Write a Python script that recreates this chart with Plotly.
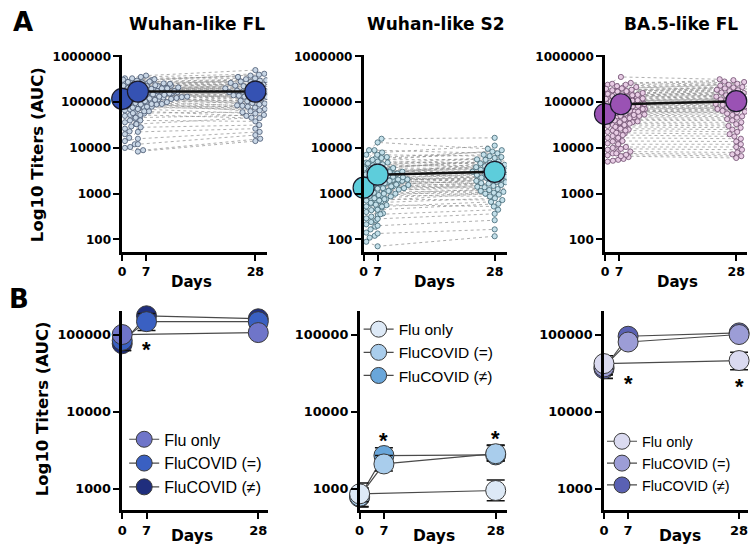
import numpy as np
import plotly.graph_objects as go

W, H = 750, 546
FONT = "Liberation Sans"
BFONT = "DejaVu Sans"

# ---------------- DATA ----------------
days = [0, 7, 28]
panel_titles = ["Wuhan-like FL", "Wuhan-like S2", "BA.5-like FL"]
tick_labels_y_top = ["100", "1000", "10000", "100000", "1000000"]
tick_values_y_top = [100, 1000, 10000, 100000, 1000000]
tick_labels_y_bot = ["1000", "10000", "100000"]
tick_values_y_bot = [1000, 10000, 100000]
day_labels = ["0", "7", "28"]

# Panel A: individual log10 titers (AUC) per subject
fl_d0 = [5.52, 5.48, 5.45, 5.44, 5.41, 5.40, 5.38, 5.36, 5.35, 5.34,
         5.32, 5.31, 5.30, 5.28, 5.27, 5.26, 5.25, 5.24, 5.22, 5.21,
         5.20, 5.19, 5.18, 5.17, 5.16, 5.15, 5.14, 5.13, 5.12, 5.11,
         5.10, 5.09, 5.08, 5.07, 5.06, 5.05, 5.04, 5.03, 5.02, 5.00,
         4.99, 4.97, 4.96, 4.95, 4.93, 4.92, 4.90, 4.88, 4.86, 4.84,
         4.82, 4.80, 4.78, 4.75, 4.72, 4.70, 4.67, 4.64, 4.60, 4.56,
         4.52, 4.47, 4.42, 4.36, 4.30, 4.22, 4.15, 4.08, 4.02, 4.00]
fl_d7 = [5.58, 5.55, 5.50, 5.52, 5.47, 5.49, 5.45, 5.44, 5.40, 5.43,
         5.41, 5.38, 5.40, 5.36, 5.37, 5.33, 5.35, 5.32, 5.34, 5.30,
         5.31, 5.28, 5.30, 5.27, 5.29, 5.25, 5.26, 5.24, 5.27, 5.22,
         5.23, 5.20, 5.24, 5.19, 5.21, 5.17, 5.18, 5.16, 5.20, 5.13,
         5.15, 5.12, 5.10, 5.14, 5.08, 5.11, 5.05, 5.07, 5.02, 5.04,
         4.98, 5.00, 4.95, 4.92, 4.96, 4.88, 4.85, 4.90, 4.80, 4.76,
         4.72, 4.66, 4.60, 4.52, 4.45, 4.35, 4.20, 4.08, 3.95, 3.92]
fl_d28 = [5.70, 5.62, 5.58, 5.55, 5.60, 5.52, 5.50, 5.48, 5.53, 5.45,
          5.47, 5.42, 5.44, 5.40, 5.38, 5.41, 5.36, 5.39, 5.33, 5.35,
          5.30, 5.34, 5.28, 5.31, 5.25, 5.29, 5.22, 5.27, 5.20, 5.24,
          5.18, 5.23, 5.15, 5.21, 5.12, 5.19, 5.10, 5.16, 5.08, 5.14,
          5.05, 5.11, 5.02, 5.06, 4.98, 5.03, 4.95, 5.00, 4.92, 4.97,
          4.88, 4.93, 4.85, 4.90, 4.80, 4.86, 4.75, 4.82, 4.70, 4.78,
          4.65, 4.72, 4.58, 4.66, 4.50, 4.42, 4.35, 4.28, 4.20, 4.15]

s2_d0 = [3.95, 3.85, 3.78, 3.72, 3.68, 3.64, 3.60, 3.57, 3.55, 3.52,
         3.50, 3.48, 3.46, 3.44, 3.42, 3.40, 3.38, 3.36, 3.35, 3.33,
         3.31, 3.30, 3.28, 3.27, 3.25, 3.24, 3.22, 3.21, 3.19, 3.18,
         3.16, 3.15, 3.13, 3.12, 3.10, 3.09, 3.07, 3.06, 3.04, 3.02,
         3.00, 2.98, 2.96, 2.94, 2.92, 2.90, 2.88, 2.85, 2.83, 2.80,
         2.78, 2.75, 2.72, 2.70, 2.67, 2.64, 2.60, 2.57, 2.53, 2.50,
         2.46, 2.42, 2.38, 2.33, 2.28, 2.22, 2.15, 2.08, 2.04, 1.95]
s2_d7 = [4.20, 3.90, 4.12, 3.80, 3.95, 3.70, 3.85, 3.62, 3.78, 3.74,
         3.58, 3.68, 3.66, 3.52, 3.70, 3.55, 3.60, 3.48, 3.64, 3.45,
         3.56, 3.42, 3.50, 3.47, 3.38, 3.53, 3.40, 3.44, 3.36, 3.49,
         3.33, 3.41, 3.30, 3.37, 3.46, 3.28, 3.34, 3.25, 3.31, 3.22,
         3.35, 3.20, 3.27, 3.18, 3.29, 3.15, 3.23, 3.12, 3.19, 3.08,
         3.16, 3.05, 3.11, 3.00, 3.06, 2.95, 3.02, 2.90, 2.97, 2.85,
         2.80, 2.88, 2.72, 2.65, 2.76, 2.55, 2.45, 2.30, 2.13, 1.85]
s2_d28 = [4.22, 4.05, 3.98, 3.92, 3.88, 3.95, 3.82, 3.78, 3.85, 3.75,
          3.72, 3.80, 3.68, 3.74, 3.65, 3.70, 3.62, 3.66, 3.58, 3.63,
          3.55, 3.60, 3.52, 3.57, 3.50, 3.54, 3.47, 3.51, 3.44, 3.48,
          3.41, 3.45, 3.38, 3.43, 3.35, 3.40, 3.32, 3.37, 3.29, 3.34,
          3.26, 3.31, 3.23, 3.28, 3.20, 3.25, 3.17, 3.22, 3.14, 3.19,
          3.10, 3.15, 3.06, 3.12, 3.02, 3.08, 2.98, 3.04, 2.94, 3.00,
          2.90, 2.86, 2.82, 2.78, 2.72, 2.65, 2.56, 2.42, 2.22, 2.07]

ba5_d0 = [5.38, 5.32, 5.28, 5.25, 5.22, 5.19, 5.16, 5.14, 5.12, 5.10,
          5.08, 5.06, 5.04, 5.02, 5.00, 4.99, 4.97, 4.96, 4.94, 4.93,
          4.91, 4.90, 4.88, 4.87, 4.85, 4.84, 4.82, 4.81, 4.79, 4.78,
          4.76, 4.75, 4.73, 4.72, 4.70, 4.69, 4.67, 4.66, 4.64, 4.62,
          4.60, 4.58, 4.56, 4.54, 4.52, 4.50, 4.48, 4.45, 4.43, 4.40,
          4.38, 4.35, 4.32, 4.29, 4.26, 4.22, 4.18, 4.14, 4.10, 4.05,
          4.00, 3.96, 3.92, 3.88, 3.84, 3.80, 3.76, 3.74, 3.72, 3.70]
ba5_d7 = [5.55, 5.42, 5.40, 5.35, 5.38, 5.30, 5.33, 5.27, 5.29, 5.24,
          5.26, 5.21, 5.23, 5.18, 5.20, 5.16, 5.17, 5.13, 5.15, 5.11,
          5.12, 5.08, 5.10, 5.05, 5.07, 5.03, 5.04, 5.00, 5.02, 4.98,
          4.99, 4.95, 4.96, 4.92, 4.94, 4.90, 4.91, 4.87, 4.88, 4.84,
          4.85, 4.81, 4.82, 4.78, 4.79, 4.75, 4.76, 4.72, 4.70, 4.67,
          4.65, 4.62, 4.60, 4.56, 4.53, 4.50, 4.46, 4.42, 4.38, 4.33,
          4.28, 4.22, 4.15, 4.08, 4.02, 3.98, 3.92, 3.88, 3.85, 3.82]
ba5_d28 = [5.50, 5.48, 5.45, 5.42, 5.44, 5.38, 5.40, 5.35, 5.36, 5.32,
           5.33, 5.29, 5.30, 5.26, 5.27, 5.23, 5.24, 5.20, 5.21, 5.17,
           5.18, 5.14, 5.15, 5.11, 5.12, 5.08, 5.09, 5.05, 5.06, 5.02,
           5.03, 4.99, 5.00, 4.96, 4.97, 4.93, 4.94, 4.90, 4.91, 4.87,
           4.88, 4.84, 4.85, 4.81, 4.82, 4.78, 4.79, 4.75, 4.72, 4.69,
           4.66, 4.63, 4.60, 4.56, 4.52, 4.48, 4.44, 4.40, 4.35, 4.30,
           4.25, 4.20, 4.14, 4.08, 4.02, 3.96, 3.90, 3.86, 3.82, 3.78]

# Panel A: geometric mean titers (AUC) at days 0, 7, 28
fl_means = [118000, 170000, 170000]
s2_means = [1350, 2600, 3000]
ba5_means = [55000, 90000, 105000]

# Panel B: group mean titers with error bars
group_names = ["Flu only", "FluCOVID (=)", "FluCOVID (≠)"]
flu_only_days = [0, 28]
flucovid_days = [0, 7, 28]

b_fl_flu = [100000, 106000]
b_fl_flu_up = [12000, 10000]
b_fl_flu_dn = [12000, 10000]
b_fl_eq = [84000, 147000, 147000]
b_fl_eq_up = [18000, 40000, 22000]
b_fl_eq_dn = [22000, 34000, 20000]
b_fl_ne = [76000, 175000, 160000]
b_fl_ne_up = [15000, 15000, 22000]
b_fl_ne_dn = [14000, 25000, 20000]

b_s2_flu = [860, 950]
b_s2_flu_up = [330, 350]
b_s2_flu_dn = [180, 250]
b_s2_eq = [800, 2100, 2850]
b_s2_eq_up = [200, 600, 850]
b_s2_eq_dn = [210, 400, 550]
b_s2_ne = [780, 2700, 2750]
b_s2_ne_up = [250, 700, 900]
b_s2_ne_dn = [200, 500, 450]

b_ba5_flu = [42000, 46000]
b_ba5_flu_up = [11000, 13000]
b_ba5_flu_dn = [6000, 11000]
b_ba5_eq = [38000, 80000, 100000]
b_ba5_eq_up = [9000, 10000, 10000]
b_ba5_eq_dn = [8000, 10000, 10000]
b_ba5_ne = [36000, 95000, 105000]
b_ba5_ne_up = [9000, 10000, 10000]
b_ba5_ne_dn = [9000, 10000, 10000]

# ---------------- STYLE / LAYOUT ----------------
def xdom(a, b):
    return [a / W, b / W]

def ydom(top, bottom):
    return [1 - bottom / H, 1 - top / H]

top_xdom = [(118, 264), (361, 505), (604, 747)]
top_xrange = [[0, 30.5], [0, 30.55], [0, 30.3]]
top_tick7 = [5, 3, 3]
top_dot7 = [3.3, 3.0, 3.4]
top_ydom = (50, 249)
top_yrange = [1.72, 6.02]

bot_xdom = [(118, 265), (357, 505), (603, 748)]
bot_xrange = [[0, 30.05], [0, 30.25], [0, 29.85]]
bot_tick7 = 5
bot_ydom = (308, 510)
bot_yrange = [2.72, 5.31]

small_fill = ["#c9d7e6", "#c4e0ea", "#e8cde5"]
small_line = ["#46566e", "#3f6472", "#6c4a6c"]
big_fill = ["#3552b3", "#5dcddb", "#9a52b4"]

b_colors = [["#6f75c9", "#3a60c2", "#1f2e7d"],
            ["#dde9f6", "#a9cdec", "#69a6da"],
            ["#dadaf0", "#9c9dd6", "#5a61b3"]]

fig = go.Figure()


def beeswarm(ypx, d, one_sided=False):
    ypx = np.asarray(ypx, dtype=float)
    xs = np.zeros(len(ypx))
    placed = []
    start = d * 0.5 if one_sided else 0.0
    for i in np.argsort(ypx):
        y = ypx[i]
        cands = [start]
        for (px, py) in placed:
            dy = abs(y - py)
            if dy < d:
                dx = np.sqrt(d * d - dy * dy)
                cands += [px + dx, px - dx]
        if one_sided:
            cands = [c for c in cands if c >= start - 1e-9]
        cands.sort(key=abs)
        for c in cands:
            if all((c - px) ** 2 + (y - py) ** 2 >= d * d - 1e-6 for px, py in placed):
                xs[i] = c
                placed.append((c, y))
                break
    return xs


panel_data = [(fl_d0, fl_d7, fl_d28, fl_means),
              (s2_d0, s2_d7, s2_d28, s2_means),
              (ba5_d0, ba5_d7, ba5_d28, ba5_means)]

px_per_dec_top = 199 / (top_yrange[1] - top_yrange[0])
DOT = 5.4

for p, (d0, d7, d28, means) in enumerate(panel_data):
    xa = "x" if p == 0 else f"x{p + 1}"
    ya = "y" if p == 0 else f"y{p + 1}"
    px_per_unit = (top_xdom[p][1] - top_xdom[p][0]) / (top_xrange[p][1] - top_xrange[p][0])
    centers = [0, top_dot7[p], 28]
    series = [d0, d7, d28]
    xs_all = []
    for k, vals in enumerate(series):
        off = beeswarm(np.array(vals) * px_per_dec_top, DOT, one_sided=(k == 0)) / px_per_unit
        xs_all.append(centers[k] + off)
    lx, ly = [], []
    for i in range(len(d0)):
        for k in range(3):
            lx.append(xs_all[k][i])
            ly.append(10 ** series[k][i])
        lx.append(None)
        ly.append(None)
    fig.add_trace(go.Scatter(x=lx, y=ly, mode="lines", xaxis=xa, yaxis=ya,
                             line=dict(color="#8c8c8c", width=0.7, dash="dot"),
                             showlegend=False, hoverinfo="skip"))
    for k in range(3):
        fig.add_trace(go.Scatter(x=xs_all[k], y=[10 ** v for v in series[k]],
                                 mode="markers", xaxis=xa, yaxis=ya,
                                 marker=dict(size=5.2, color=small_fill[p],
                                             line=dict(color=small_line[p], width=0.8)),
                                 showlegend=False))
    fig.add_trace(go.Scatter(x=centers, y=means, mode="lines+markers", xaxis=xa, yaxis=ya,
                             line=dict(color="#111111", width=2.5),
                             marker=dict(size=21, color=big_fill[p],
                                         line=dict(color="#1a1a2a", width=1.2)),
                             cliponaxis=False, showlegend=False))

b_sets = [
    [(flu_only_days, b_fl_flu, b_fl_flu_up, b_fl_flu_dn),
     (flucovid_days, b_fl_eq, b_fl_eq_up, b_fl_eq_dn),
     (flucovid_days, b_fl_ne, b_fl_ne_up, b_fl_ne_dn)],
    [(flu_only_days, b_s2_flu, b_s2_flu_up, b_s2_flu_dn),
     (flucovid_days, b_s2_eq, b_s2_eq_up, b_s2_eq_dn),
     (flucovid_days, b_s2_ne, b_s2_ne_up, b_s2_ne_dn)],
    [(flu_only_days, b_ba5_flu, b_ba5_flu_up, b_ba5_flu_dn),
     (flucovid_days, b_ba5_eq, b_ba5_eq_up, b_ba5_eq_dn),
     (flucovid_days, b_ba5_ne, b_ba5_ne_up, b_ba5_ne_dn)],
]
legend_ids = ["legend", "legend2", "legend3"]

for p in range(3):
    xa = f"x{p + 4}"
    ya = f"y{p + 4}"
    for g in [2, 1, 0]:
        dd, m, up, dn = b_sets[p][g]
        xpos = [bot_tick7 if d == 7 else d for d in dd]
        fig.add_trace(go.Scatter(
            x=xpos, y=m, mode="lines+markers", xaxis=xa, yaxis=ya,
            name=group_names[g], legend=legend_ids[p],
            line=dict(color="#4a4a4a", width=1.2),
            marker=dict(size=20, color=b_colors[p][g], line=dict(color="#3a3a3a", width=1)),
            error_y=dict(type="data", array=up, arrayminus=dn, color="#111111",
                         thickness=1.6, width=9),
            cliponaxis=False))

axis_common = dict(showline=True, linecolor="black", linewidth=2.5, ticks="outside",
                   ticklen=6, tickwidth=2, tickcolor="black", showgrid=False,
                   zeroline=False, mirror=False)

layout = dict(width=W, height=H, margin=dict(l=0, r=0, t=0, b=0),
              paper_bgcolor="white", plot_bgcolor="white",
              font=dict(family=FONT, color="black"))

for p in range(3):
    sfx = "" if p == 0 else str(p + 1)
    layout["xaxis" + sfx] = dict(axis_common, domain=xdom(*top_xdom[p]), range=top_xrange[p],
                                 anchor="y" + sfx, tickvals=[0, top_tick7[p], 28],
                                 ticktext=day_labels,
                                 tickfont=dict(family=BFONT, size=12.5, weight=700))
    layout["yaxis" + sfx] = dict(axis_common, domain=ydom(*top_ydom), range=top_yrange,
                                 type="log", anchor="x" + sfx,
                                 tickvals=tick_values_y_top, ticktext=tick_labels_y_top,
                                 tickfont=dict(family=BFONT, size=12, weight=700))
    s2 = str(p + 4)
    layout["xaxis" + s2] = dict(axis_common, domain=xdom(*bot_xdom[p]), range=bot_xrange[p],
                                anchor="y" + s2, tickvals=[0, bot_tick7, 28],
                                ticktext=day_labels,
                                tickfont=dict(family=BFONT, size=13, weight=700))
    layout["yaxis" + s2] = dict(axis_common, domain=ydom(*bot_ydom), range=bot_yrange,
                                type="log", anchor="x" + s2,
                                tickvals=tick_values_y_bot, ticktext=tick_labels_y_bot,
                                tickfont=dict(family=BFONT, size=12.8, weight=700))

leg_common = dict(xanchor="left", yanchor="top", bgcolor="rgba(0,0,0,0)",
                  traceorder="reversed", itemsizing="trace", tracegroupgap=0)
layout["legend"] = dict(leg_common, x=120 / W, y=1 - 421 / H,
                        font=dict(family=FONT, size=16, color="black"))
layout["legend2"] = dict(leg_common, x=356 / W, y=1 - 310 / H,
                         font=dict(family=FONT, size=15.5, color="black"))
layout["legend3"] = dict(leg_common, x=601 / W, y=1 - 424 / H,
                         font=dict(family=FONT, size=14.5, color="black"))

ann = []

def pann(text, x, y, size, angle=0):
    ann.append(dict(text=text, x=x / W, y=1 - y / H, xref="paper", yref="paper",
                    showarrow=False, textangle=angle, xanchor="center", yanchor="middle",
                    font=dict(family=BFONT, size=size, color="black", weight=700)))

pann("A", 18, 16, 26)
pann("B", 14, 296, 26)
for t, xc in zip(panel_titles, [193, 434, 681]):
    pann(t, xc, 18, 17)
for xc in [188, 432, 677]:
    pann("Days", xc, 279, 15)
for xc in [188, 432, 680]:
    pann("Days", xc, 536, 15.5)
pann("Log10 Titers (AUC)", 33, 150, 16.5, angle=-90)
pann("Log10 Titers (AUC)", 38, 407, 16.5, angle=-90)

star_axes = ["x4", "x5", "x5", "x6", "x6"]
star_x = [bot_tick7, bot_tick7, 28, bot_tick7, 28]
star_y = [72000, 4700, 5100, 26000, 24000]
for xa, sx, sy in zip(star_axes, star_x, star_y):
    ya = "y" + xa[1:]
    ann.append(dict(text="*", x=sx, y=np.log10(sy), xref=xa, yref=ya, showarrow=False,
                    font=dict(family=FONT, size=22, color="black", weight=700),
                    yshift=-4))

layout["annotations"] = ann
fig.update_layout(**layout)
fig.write_html("out.html", config={"displayModeBar": False},
               post_script="document.body.style.margin='0';document.body.style.padding='0';"
                           "document.body.style.overflow='hidden';")
